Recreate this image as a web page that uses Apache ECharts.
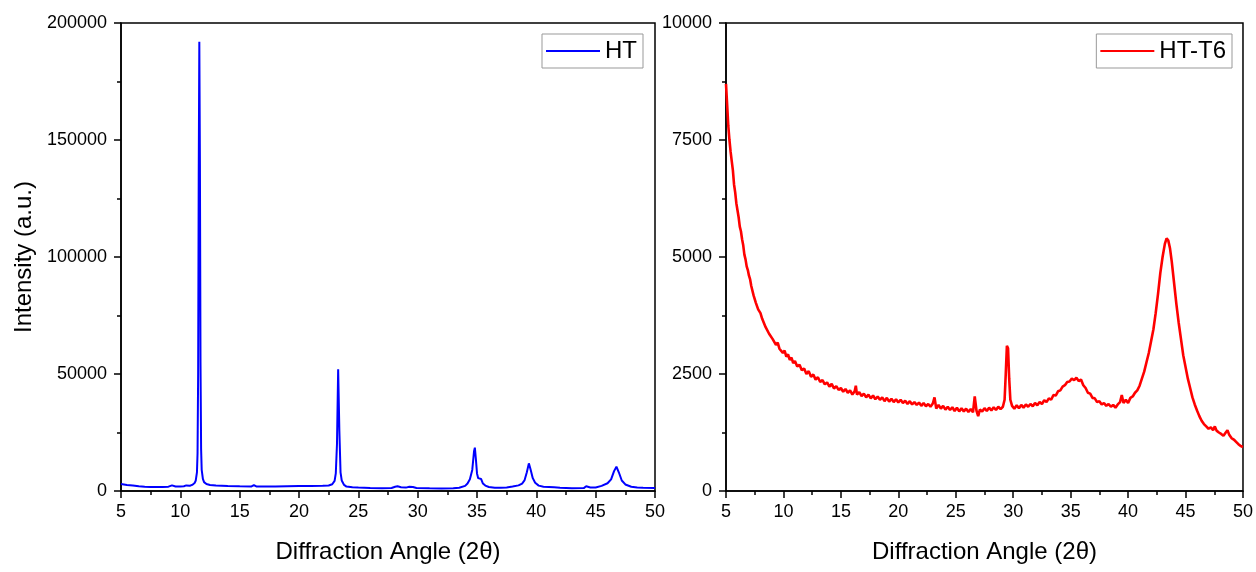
<!DOCTYPE html>
<html>
<head>
<meta charset="utf-8">
<script src="https://cdn.jsdelivr.net/npm/echarts@6/dist/echarts.min.js"></script>
<style>
  html, body { margin: 0; padding: 0; background: #fff; }
  #main { width: 1256px; height: 572px; }
</style>
</head>
<body>
<div id="main"></div>
<script>
// XRD patterns, [2theta, intensity]
var htData = [
  [5.0, 3000], [5.5, 2600], [6.0, 2300], [6.5, 2000], [7.0, 1800], [7.5, 1700], [8.0, 1700],
  [8.5, 1750], [9.0, 1850], [9.3, 2400], [9.6, 1950], [10.0, 1950], [10.3, 2050], [10.5, 2400],
  [10.8, 2250], [11.0, 2600], [11.2, 3400], [11.3, 4500], [11.4, 8000], [11.45, 16000],
  [11.5, 50000], [11.55, 135000], [11.6, 192000], [11.65, 140000], [11.7, 55000], [11.75, 18000],
  [11.8, 9000], [11.9, 5200], [12.0, 3800], [12.2, 3000], [12.5, 2600], [13.0, 2400], [14.0, 2150],
  [15.0, 2000], [16.0, 1950], [16.2, 2500], [16.4, 1950], [17.0, 1950], [18.0, 1950], [19.0, 2050],
  [20.0, 2100], [21.0, 2150], [22.0, 2200], [22.5, 2350], [22.8, 2900], [23.0, 4300], [23.1, 7500],
  [23.2, 20000], [23.3, 52000], [23.4, 26000], [23.5, 8000], [23.6, 4500], [23.8, 2600], [24.0, 1900],
  [24.5, 1600], [25.0, 1450], [26.0, 1300], [27.0, 1200], [27.8, 1300], [28.1, 1800], [28.3, 2000],
  [28.6, 1600], [29.0, 1450], [29.3, 1800], [29.45, 2400], [29.6, 1700], [29.9, 1300], [31.0, 1150],
  [32.0, 1100], [33.0, 1150], [33.5, 1400], [34.0, 2200], [34.2, 3200], [34.4, 5000], [34.6, 9000],
  [34.75, 17000], [34.82, 18500], [34.9, 14000], [35.0, 7500], [35.1, 5500], [35.25, 4800],
  [35.35, 5100], [35.5, 3200], [35.7, 2300], [36.0, 1700], [36.5, 1400], [37.0, 1350], [37.5, 1500],
  [38.0, 1900], [38.5, 2400], [38.8, 3200], [39.0, 4500], [39.2, 8000], [39.37, 11800], [39.5, 9500],
  [39.7, 5500], [39.9, 3500], [40.2, 2300], [40.6, 1800], [41.5, 1550], [42.0, 1400], [43.0, 1200],
  [44.0, 1250], [44.2, 2000], [44.35, 2500], [44.55, 1500], [45.0, 1500], [45.5, 2200], [46.0, 3300],
  [46.3, 5000], [46.55, 8500], [46.75, 10400], [46.95, 8000], [47.2, 4500], [47.5, 2800], [48.0, 1800],
  [48.5, 1500], [49.0, 1400], [50.0, 1300]
];

var t6Data = [
  [5.0, 8700], [5.1, 8250], [5.2, 7800], [5.3, 7500], [5.4, 7250], [5.5, 7050], [5.6, 6850],
  [5.7, 6550], [5.8, 6380], [5.9, 6150], [6.0, 6000], [6.1, 5850], [6.2, 5650], [6.3, 5550],
  [6.4, 5380], [6.5, 5250], [6.6, 5050], [6.7, 4950], [6.8, 4800], [6.9, 4720], [7.0, 4600],
  [7.1, 4520], [7.2, 4380], [7.3, 4340], [7.4, 4180], [7.5, 4150], [7.6, 4020], [7.7, 3990],
  [7.8, 3880], [7.9, 3900], [8.0, 3800], [8.15, 3680], [8.3, 3640], [8.45, 3500], [8.6, 3520],
  [8.75, 3360], [8.9, 3400], [9.05, 3250], [9.2, 3280], [9.35, 3120], [9.5, 3170], [9.65, 3040],
  [9.8, 3060], [9.95, 2950], [10.1, 3000], [10.25, 2870], [10.4, 2920], [10.55, 2800], [10.7, 2850],
  [10.85, 2730], [11.0, 2780], [11.2, 2660], [11.4, 2700], [11.6, 2580], [11.8, 2620], [12.0, 2500],
  [12.2, 2560], [12.4, 2440], [12.6, 2490], [12.8, 2380], [13.0, 2430], [13.2, 2330], [13.4, 2370],
  [13.6, 2280], [13.8, 2320], [14.0, 2230], [14.2, 2290], [14.4, 2190], [14.6, 2240], [14.8, 2160],
  [15.0, 2200], [15.2, 2120], [15.4, 2180], [15.6, 2100], [15.8, 2150], [16.0, 2060], [16.2, 2130],
  [16.3, 2250], [16.4, 2060], [16.6, 2110], [16.8, 2030], [17.0, 2080], [17.2, 2000], [17.4, 2060],
  [17.6, 1980], [17.8, 2040], [18.0, 1960], [18.2, 2020], [18.4, 1950], [18.6, 2000], [18.8, 1920],
  [19.0, 1990], [19.2, 1910], [19.4, 1970], [19.6, 1900], [19.8, 1960], [20.0, 1890], [20.2, 1950],
  [20.4, 1880], [20.6, 1930], [20.8, 1860], [21.0, 1920], [21.2, 1850], [21.4, 1900], [21.6, 1840],
  [21.8, 1890], [22.0, 1820], [22.2, 1880], [22.4, 1810], [22.6, 1860], [22.8, 1800], [23.0, 1870],
  [23.15, 2000], [23.3, 1760], [23.5, 1840], [23.7, 1760], [23.9, 1820], [24.1, 1740], [24.3, 1800],
  [24.5, 1730], [24.7, 1790], [24.9, 1710], [25.1, 1780], [25.3, 1700], [25.5, 1770], [25.7, 1700],
  [25.9, 1760], [26.1, 1690], [26.3, 1750], [26.5, 1680], [26.65, 2020], [26.8, 1720], [26.95, 1600],
  [27.1, 1740], [27.3, 1700], [27.5, 1770], [27.7, 1710], [27.9, 1780], [28.1, 1720], [28.3, 1790],
  [28.5, 1730], [28.7, 1800], [28.9, 1750], [29.1, 1800], [29.25, 1950], [29.35, 2500], [29.45, 3100],
  [29.55, 3050], [29.65, 2400], [29.75, 1950], [29.9, 1820], [30.1, 1760], [30.3, 1830], [30.5, 1770],
  [30.7, 1840], [30.9, 1780], [31.1, 1850], [31.3, 1800], [31.5, 1860], [31.7, 1810], [31.9, 1880],
  [32.1, 1830], [32.3, 1900], [32.5, 1860], [32.7, 1940], [32.9, 1900], [33.1, 1980], [33.3, 1950],
  [33.5, 2050], [33.7, 2040], [33.9, 2130], [34.1, 2150], [34.3, 2230], [34.5, 2260], [34.7, 2330],
  [34.9, 2340], [35.1, 2400], [35.3, 2370], [35.5, 2420], [35.7, 2350], [35.9, 2380], [36.1, 2260],
  [36.3, 2200], [36.5, 2100], [36.7, 2080], [36.9, 1990], [37.1, 1980], [37.3, 1900], [37.5, 1920],
  [37.7, 1850], [37.9, 1880], [38.1, 1820], [38.3, 1860], [38.5, 1800], [38.7, 1840], [38.9, 1780],
  [39.1, 1850], [39.3, 1900], [39.45, 2050], [39.6, 1880], [39.8, 1950], [40.0, 1880], [40.2, 1990],
  [40.4, 2020], [40.6, 2100], [40.8, 2150], [41.0, 2250], [41.2, 2400], [41.4, 2550], [41.6, 2750],
  [41.8, 2950], [42.0, 3200], [42.2, 3450], [42.4, 3800], [42.6, 4200], [42.8, 4650], [43.0, 5000],
  [43.2, 5280], [43.35, 5400], [43.5, 5350], [43.65, 5180], [43.8, 4900], [44.0, 4450], [44.2, 4000],
  [44.4, 3600], [44.6, 3250], [44.8, 2900], [45.0, 2650], [45.2, 2400], [45.4, 2200], [45.6, 2000],
  [45.8, 1850], [46.0, 1720], [46.2, 1600], [46.4, 1500], [46.6, 1430], [46.8, 1380], [47.0, 1330],
  [47.2, 1360], [47.4, 1300], [47.55, 1380], [47.7, 1290], [47.9, 1250], [48.1, 1220], [48.3, 1180],
  [48.5, 1250], [48.65, 1300], [48.8, 1200], [49.0, 1130], [49.2, 1100], [49.4, 1050], [49.6, 1000],
  [49.8, 960], [50.0, 940]
];

var seriesNames = ['HT', 'HT-T6'];
var xTitle = 'Diffraction Angle (2θ)';
var yTitle = 'Intensity (a.u.)';

var font = "'Liberation Sans', Arial, sans-serif";

function xAxisFor(idx) {
  return {
    type: 'value', gridIndex: idx, min: 5, max: 50, interval: 5,
    name: xTitle, nameLocation: 'middle', nameGap: 49,
    nameTextStyle: { fontFamily: font, fontSize: 24, color: '#000' },
    axisLine: { lineStyle: { color: '#000', width: 1.5 } },
    axisTick: { inside: false, length: 7, lineStyle: { color: '#000', width: 1.5 } },
    minorTick: { show: true, splitNumber: 2, length: 4, lineStyle: { color: '#000', width: 1.5 } },
    splitLine: { show: false },
    axisLabel: { fontFamily: font, fontSize: 18, color: '#000', margin: 12 }
  };
}

function yAxisFor(idx, max, interval, withName) {
  return {
    type: 'value', gridIndex: idx, min: 0, max: max, interval: interval,
    name: withName ? yTitle : '', nameLocation: 'middle', nameGap: 85,
    nameTextStyle: { fontFamily: font, fontSize: 24, color: '#000' },
    axisLine: { show: true, lineStyle: { color: '#000', width: 1.5 } },
    axisTick: { inside: false, length: 7, lineStyle: { color: '#000', width: 1.5 } },
    minorTick: { show: true, splitNumber: 2, length: 4, lineStyle: { color: '#000', width: 1.5 } },
    splitLine: { show: false },
    axisLabel: {
      fontFamily: font, fontSize: 18, color: '#000', margin: 14,
      formatter: function (v) { return String(v); }
    }
  };
}

function legendFor(name, right) {
  return {
    data: [{ name: name, icon: 'rect' }], right: right, top: 34, orient: 'horizontal',
    itemWidth: 54, itemHeight: 2, itemGap: 5,
    padding: [5, 6, 5, 4],
    borderColor: '#999', borderWidth: 1,
    textStyle: { fontFamily: font, fontSize: 24, color: '#000', padding: [0, 0, 0, 0] }
  };
}

var chart = echarts.init(document.getElementById('main'));
chart.setOption({
  animation: false,
  backgroundColor: '#fff',
  grid: [
    { left: 121, right: 601, top: 23, bottom: 81, show: true, borderColor: '#000', borderWidth: 1.5 },
    { left: 726, right: 13, top: 23, bottom: 81, show: true, borderColor: '#000', borderWidth: 1.5 }
  ],
  legend: [legendFor(seriesNames[0], 613), legendFor(seriesNames[1], 24)],
  xAxis: [xAxisFor(0), xAxisFor(1)],
  yAxis: [yAxisFor(0, 200000, 50000, true), yAxisFor(1, 10000, 2500, false)],
  series: [
    {
      name: seriesNames[0], type: 'line', xAxisIndex: 0, yAxisIndex: 0,
      data: htData, symbol: 'none', smooth: false,
      lineStyle: { color: '#0000ff', width: 2 }, itemStyle: { color: '#0000ff' }
    },
    {
      name: seriesNames[1], type: 'line', xAxisIndex: 1, yAxisIndex: 1,
      data: t6Data, symbol: 'none', smooth: false,
      lineStyle: { color: '#ff0000', width: 2.6 }, itemStyle: { color: '#ff0000' }
    }
  ]
});
</script>
</body>
</html>
